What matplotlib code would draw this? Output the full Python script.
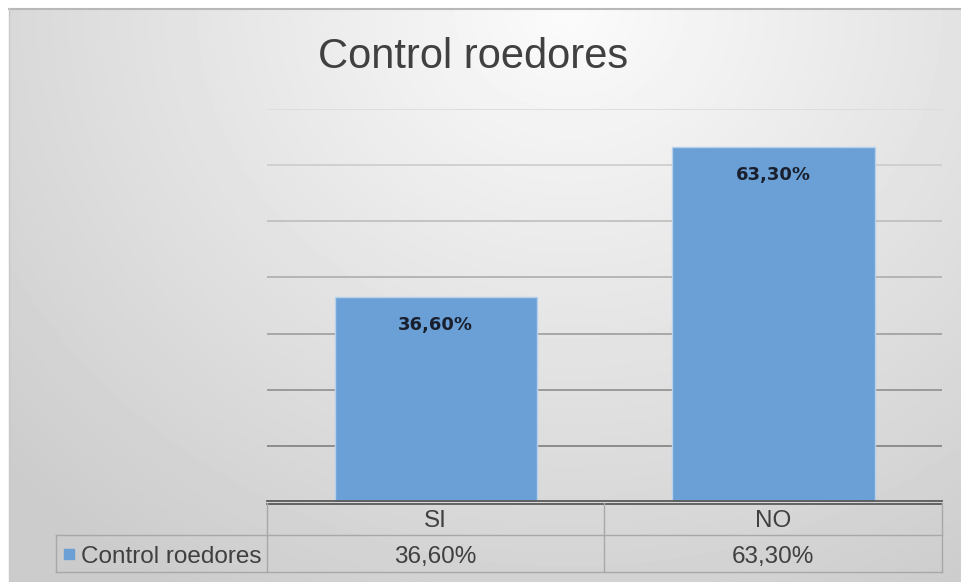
import numpy as np
import matplotlib.pyplot as plt
from matplotlib.patches import Rectangle

titulo = "Control roedores"
categorias = ["SI", "NO"]
valores = [36.6, 63.3]
etiquetas = ["36,60%", "63,30%"]
serie = "Control roedores"

W, H = 961, 582
azul = "#6aa0d5"
texto = "#404040"
plt.rcParams['font.family'] = ['Liberation Sans', 'DejaVu Sans']

fig = plt.figure(figsize=(W / 100, H / 100), dpi=100)


def px(x0, y0, x1, y1):
    # pixel box (top-left origin) -> figure fraction rect
    return [x0 / W, 1 - y1 / H, (x1 - x0) / W, (y1 - y0) / H]


# fondo con degradado
bg = fig.add_axes(px(9, 8, W, H))
yy, xx = np.mgrid[0:H - 8, 0:W - 9]
d = np.sqrt(((xx - 560) / 700.0) ** 2 + (yy / 620.0) ** 2)
img = 0.985 - 0.17 * np.clip(d, 0, 1.1)
bg.imshow(img, cmap='gray', vmin=0, vmax=1, aspect='auto', interpolation='bilinear')
bg.axis('off')
fig.add_artist(plt.Line2D([9 / W, 1], [1 - 8.5 / H] * 2, color='#b8b8b8', lw=1.5))
fig.add_artist(plt.Line2D([9 / W] * 2, [0, 1 - 8 / H], color='#c8c8c8', lw=1))

# grafico de barras
ax = fig.add_axes(px(267, 109, 942, 502))
ax.patch.set_alpha(0)
x = np.arange(len(categorias))
ax.set_xlim(-0.5, len(categorias) - 0.5)
ax.set_ylim(0, 70)
ticks = np.arange(10, 71, 10)
for t in ticks:
    c = 0.50 + 0.36 * (t - 10) / 60
    ax.axhline(t, color=(c, c, c), lw=1.2, zorder=1)
ax.bar(x, valores, width=0.6, color=azul, edgecolor='#b7d1ec', lw=1, zorder=2)
for xi, v, lab in zip(x, valores, etiquetas):
    ax.text(xi, v - 5, lab, ha='center', va='center', fontsize=13,
            fontweight='semibold', color='#1a1f2e', family='DejaVu Sans', zorder=3)
ax.set_xticks([])
ax.set_yticks([])
for s in ax.spines.values():
    s.set_visible(False)

fig.text(318 / W, 1 - 68 / H, titulo, ha='left', va='baseline', fontsize=30, color=texto)

# tabla de datos
tb = fig.add_axes(px(50, 498, 950, 580))
tb.set_xlim(50, 950)
tb.set_ylim(580, 498)
tb.axis('off')
tb.patch.set_alpha(0)
lc = '#a8a8a8'
tb.plot([267, 942], [501, 501], color='#5a5a5a', lw=1.3)
tb.plot([267, 942], [503.5, 503.5], color='#5a5a5a', lw=1.3)
tb.plot([56, 942], [535, 535], color=lc, lw=1)
tb.plot([56, 942], [572, 572], color=lc, lw=1)
tb.plot([56, 56], [535, 572], color=lc, lw=1)
for xv in [267, 604, 942]:
    tb.plot([xv, xv], [503, 572], color=lc, lw=1)
centros = [435.5, 773]
for cx, cat, lab in zip(centros, categorias, etiquetas):
    tb.text(cx, 527, cat, ha='center', va='baseline', fontsize=17.5, color=texto)
    tb.text(cx, 563, lab, ha='center', va='baseline', fontsize=17.5, color=texto)
tb.add_patch(Rectangle((64, 549), 10, 10, color=azul))
tb.text(81, 563, serie, ha='left', va='baseline', fontsize=17.5, color=texto)

fig.savefig('out.png', dpi=100, facecolor='white')
